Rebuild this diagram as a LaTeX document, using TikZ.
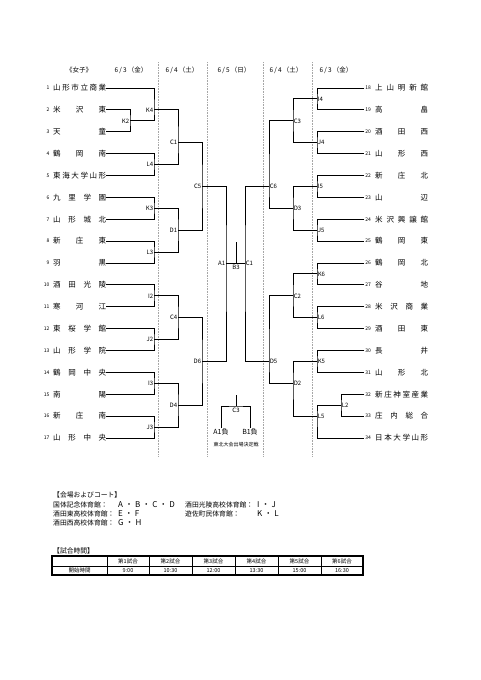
\documentclass[tikz,border=0pt]{standalone}
\usepackage{fontspec}
\setmainfont{Noto Sans CJK JP}
\newcommand\gd{\hspace{2pt}・\hspace{2pt}}
\begin{document}
\begin{tikzpicture}[x=1pt,y=-1pt,
  br/.style={line width=0.9pt, black},
  grid/.style={gray!70, line width=0.6pt, densely dotted},
  lbl/.style={font=\fontsize{6}{6}\selectfont, inner sep=0.6pt},
  lft/.style={lbl, anchor=east},
  rgt/.style={lbl, anchor=west},
  team/.style={font=\fontsize{7.5}{7.5}\selectfont, inner sep=0pt, anchor=west},
  num/.style={font=\fontsize{5}{5}\selectfont, inner sep=0.8pt, anchor=east},
  hdr/.style={font=\fontsize{6.5}{6.5}\selectfont, inner sep=0pt},
  leg/.style={font=\fontsize{6.8}{6.8}\selectfont, inner sep=0pt, anchor=west},
  legl/.style={font=\fontsize{8}{8}\selectfont, inner sep=0pt, anchor=west},
  cell/.style={font=\fontsize{5.5}{5.5}\selectfont, inner sep=0pt},
]
\fill[white] (0,0) rectangle (481,680);
\useasboundingbox (0,0) rectangle (481,680);

% day columns
\foreach \x in {158,207,263,312} {\draw[grid] (\x,62) -- (\x,456);}

% header
\node[hdr] (h0) at (79,70) {《女子》};
\node[hdr] (h1) at (131,70) {6\,/\,3\,（金）};
\node[hdr] (h2) at (182,70) {6\,/\,4\,（土）};
\node[hdr] (h3) at (234,70) {6\,/\,5\,（日）};
\node[hdr] (h4) at (286,70) {6\,/\,4\,（土）};
\node[hdr] (h5) at (336,70) {6\,/\,3\,（金）};

% left teams
\foreach \i/\nm in {
 1/{山\hfill 形\hfill 市\hfill 立\hfill 商\hfill 業},
 2/{米\hfill 沢\hfill 東},
 3/{天\hfill 童},
 4/{鶴\hfill 岡\hfill 南},
 5/{東\hfill 海\hfill 大\hfill 学\hfill 山\hfill 形},
 6/{九\hfill 里\hfill 学\hfill 園},
 7/{山\hfill 形\hfill 城\hfill 北},
 8/{新\hfill 庄\hfill 東},
 9/{羽\hfill 黒},
 10/{酒\hfill 田\hfill 光\hfill 陵},
 11/{寒\hfill 河\hfill 江},
 12/{東\hfill 桜\hfill 学\hfill 館},
 13/{山\hfill 形\hfill 学\hfill 院},
 14/{鶴\hfill 岡\hfill 中\hfill 央},
 15/{南\hfill 陽},
 16/{新\hfill 庄\hfill 南},
 17/{山\hfill 形\hfill 中\hfill 央}} {
  \node[num] (n\i) at (50.5, {88+(\i-1)*21.875}) {\i};
  \node[team] (t\i) at (53, {88+(\i-1)*21.875}) {\hbox to 53pt{\nm}};
}

% right teams
\foreach \i/\nm in {
 18/{上\hfill 山\hfill 明\hfill 新\hfill 館},
 19/{高\hfill 畠},
 20/{酒\hfill 田\hfill 西},
 21/{山\hfill 形\hfill 西},
 22/{新\hfill 庄\hfill 北},
 23/{山\hfill 辺},
 24/{米\hfill 沢\hfill 興\hfill 譲\hfill 館},
 25/{鶴\hfill 岡\hfill 東},
 26/{鶴\hfill 岡\hfill 北},
 27/{谷\hfill 地},
 28/{米\hfill 沢\hfill 商\hfill 業},
 29/{酒\hfill 田\hfill 東},
 30/{長\hfill 井},
 31/{山\hfill 形\hfill 北},
 32/{新\hfill 庄\hfill 神\hfill 室\hfill 産\hfill 業},
 33/{庄\hfill 内\hfill 総\hfill 合},
 34/{日\hfill 本\hfill 大\hfill 学\hfill 山\hfill 形}} {
  \node[num] (n\i) at (372, {88+(\i-18)*21.875}) {\i};
  \node[team] (t\i) at (375, {88+(\i-18)*21.875}) {\hbox to 53pt{\nm}};
}

% match points, left
\coordinate (K2) at (130,120.8);
\coordinate (K4) at (154,109.9);
\coordinate (L4) at (154,164.6);
\coordinate (C1) at (178,142.7);
\coordinate (K3) at (154,208.3);
\coordinate (L3) at (154,252.0);
\coordinate (D1) at (178,230.2);
\coordinate (C5) at (202,186.5);
\coordinate (I2) at (154,295.8);
\coordinate (J2) at (154,339.5);
\coordinate (C4) at (178,317.7);
\coordinate (I3) at (154,383.3);
\coordinate (J3) at (154,427.0);
\coordinate (D4) at (178,405.2);
\coordinate (D6) at (202,361.5);
\coordinate (A1) at (226,263.0);
% match points, right
\coordinate (I4) at (317,98.9);
\coordinate (J4) at (317,142.7);
\coordinate (C3) at (293,120.8);
\coordinate (I5) at (317,186.5);
\coordinate (J5) at (317,230.2);
\coordinate (D3) at (293,208.3);
\coordinate (C6) at (269,186.5);
\coordinate (K6) at (317,273.9);
\coordinate (L6) at (317,317.7);
\coordinate (C2) at (293,295.8);
\coordinate (K5) at (317,361.5);
\coordinate (L2) at (341,405.2);
\coordinate (L5) at (317,416.1);
\coordinate (D2) at (293,383.3);
\coordinate (D5) at (269,361.5);
\coordinate (CR) at (245,263.0);
\coordinate (B3mid) at (236,263.0);
\coordinate (B3top) at (236,242.0);

% left bracket
\draw[br] (t2.east) -| (K2) |- (t3.east);
\draw[br] (t1.east) -| (K4) |- (K2);
\draw[br] (t4.east) -| (L4) |- (t5.east);
\draw[br] (K4) -| (C1) |- (L4);
\draw[br] (t6.east) -| (K3) |- (t7.east);
\draw[br] (t8.east) -| (L3) |- (t9.east);
\draw[br] (K3) -| (D1) |- (L3);
\draw[br] (C1) -| (C5) |- (D1);
\draw[br] (t10.east) -| (I2) |- (t11.east);
\draw[br] (t12.east) -| (J2) |- (t13.east);
\draw[br] (I2) -| (C4) |- (J2);
\draw[br] (t14.east) -| (I3) |- (t15.east);
\draw[br] (t16.east) -| (J3) |- (t17.east);
\draw[br] (I3) -| (D4) |- (J3);
\draw[br] (C4) -| (D6) |- (D4);
\draw[br] (C5) -| (A1) |- (D6);
\draw[br] (A1) -- (CR);
\draw[br] (B3top) -- (B3mid);

% right bracket
\draw[br] (n18.west) -| (I4) |- (n19.west);
\draw[br] (n20.west) -| (J4) |- (n21.west);
\draw[br] (I4) -| (C3) |- (J4);
\draw[br] (n22.west) -| (I5) |- (n23.west);
\draw[br] (n24.west) -| (J5) |- (n25.west);
\draw[br] (I5) -| (D3) |- (J5);
\draw[br] (C3) -| (C6) |- (D3);
\draw[br] (n26.west) -| (K6) |- (n27.west);
\draw[br] (n28.west) -| (L6) |- (n29.west);
\draw[br] (K6) -| (C2) |- (L6);
\draw[br] (n30.west) -| (K5) |- (n31.west);
\draw[br] (n32.west) -| (L2) |- (n33.west);
\draw[br] (L2) -| (L5) |- (n34.west);
\draw[br] (K5) -| (D2) |- (L5);
\draw[br] (C2) -| (D5) |- (D2);
\draw[br] (C6) -| (CR) |- (D5);

% labels left
\foreach \m in {K2,K4,L4,C1,K3,L3,D1,C5,I2,J2,C4,I3,J3,D4,D6,A1}
  {\node[lft] (l\m) at (\m) {\m};}
% labels right
\foreach \m in {I4,J4,C3,I5,J5,D3,C6,K6,L6,C2,K5,L2,L5,D2,D5}
  {\node[rgt] (l\m) at (\m) {\m};}
\node[rgt] (lCR) at (CR) {C1};
\node[lbl, anchor=north] (lB3) at (236,264.5) {B3};

% third place match
\coordinate (C3b) at (236,406);
\coordinate (C3top) at (236,395);
\node[font=\fontsize{7}{7}\selectfont, inner sep=0.5pt, anchor=north] (a1l) at (221,428) {A1負};
\node[font=\fontsize{7}{7}\selectfont, inner sep=0.5pt, anchor=north] (b1l) at (250,428) {B1負};
\draw[br] (C3top) -- (C3b);
\draw[br] (a1l.north) |- (C3b) -| (b1l.north);
\node[lbl, anchor=north] (lC3b) at (236,407.5) {C3};
\node[font=\fontsize{5}{5}\selectfont, inner sep=0pt] (note) at (236,444.5) {東北大会出場決定戦};

% legend
\node[leg] (lg0) at (53,495) {【会場およびコート】};
\node[leg] (lg1) at (53,505) {国体記念体育館：};
\node[legl] (ll1) at (118,505) {A\gd B\gd C\gd D};
\node[leg] (lg2) at (185,505) {酒田光陵高校体育館：};
\node[legl] (ll2) at (257,505) {I\gd J};
\node[leg] (lg3) at (53,514) {酒田東高校体育館：};
\node[legl] (ll3) at (118,514) {E\gd F};
\node[leg] (lg4) at (185,514) {遊佐町民体育館：};
\node[legl] (ll4) at (257,514) {K\gd L};
\node[leg] (lg5) at (53,523) {酒田西高校体育館：};
\node[legl] (ll5) at (118,523) {G\gd H};

% schedule table
\node[leg] (tt) at (53,551) {【試合時間】};
\draw[line width=0.7pt] (52,566) -- (363,566);
\foreach \x in {107,149,192,235,278,321} {\draw[line width=0.7pt] (\x,556) -- (\x,575);}
\draw[line width=1.2pt] (52,556) rectangle (363,575);
\node[cell] (c0) at (79.5,570.7) {開始時間};
\foreach \k/\cx/\tm in {1/128/9:00, 2/170.5/10:30, 3/213.5/12:00, 4/256.5/13:30, 5/299.5/15:00, 6/342/16:30} {
  \node[cell] (hd\k) at (\cx,561) {第\k 試合};
  \node[cell] (tm\k) at (\cx,570.7) {\tm};
}
\end{tikzpicture}
\end{document}
